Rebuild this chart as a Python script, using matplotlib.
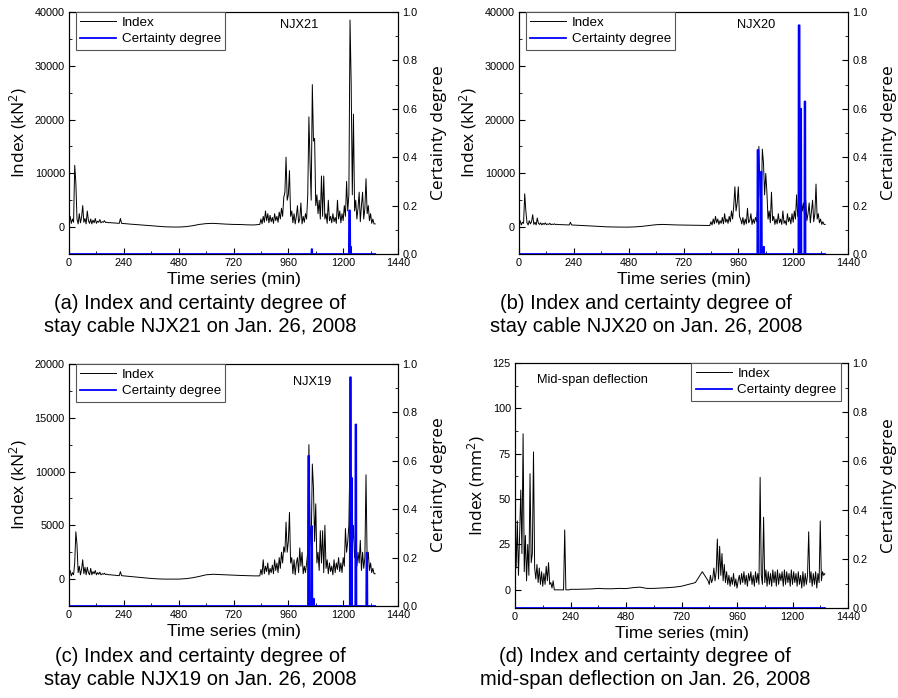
import numpy as np
import matplotlib
matplotlib.use('Agg')
import matplotlib.pyplot as plt
from matplotlib.ticker import MultipleLocator, FormatStrFormatter

plt.rcParams['mathtext.default'] = 'regular'

TICK_FONT = ['Liberation Sans', 'DejaVu Sans']
LABEL_FONT = ['Open Sans', 'DejaVu Sans']
CAP_FONT = ['Liberation Sans Narrow', 'Liberation Sans', 'DejaVu Sans']

# sampling times (min): dense early, coarse in the quiet night, dense later
minutes = list(range(0, 240, 5)) + list(range(240, 840, 30)) + list(range(835, 1345, 5))

# ---- NJX21 index (kN^2)
idx_a = [1000, 2000, 700, 1500, 900, 11500, 8200, 1500, 600, 2500,
         800, 1800, 4000, 900, 1600, 600, 3000, 1200, 700, 1500,
         600, 1300, 800, 1600, 700, 1100, 900, 1400, 800, 1000,
         900, 1200, 850, 900, 850, 800, 850, 800, 800, 780,
         760, 750, 740, 720, 700, 1600, 700, 680,
         650, 550, 450, 350, 250, 150, 60, 20, 10, 80,
         250, 500, 650, 700, 620, 550, 500, 480, 420, 400,
         500, 1500, 600, 2000, 900, 3000, 1200, 2500, 800, 2200,
         1000, 1800, 700, 2500, 1200, 2000, 900, 2800, 1500, 3500,
         2000, 5500, 6500, 13000, 5000, 6000, 10500, 2000, 3000, 800,
         2500, 600, 2000, 4000, 800, 1500, 4500, 600, 2000, 900,
         2500, 1500, 6000, 20500, 12000, 5000, 26500, 16000, 16500, 4000,
         6000, 2500, 5000, 1500, 9500, 2000, 9500, 1500, 2500, 700,
         5000, 1200, 2000, 800, 2500, 1000, 1800, 700, 5000, 1500,
         3000, 800, 2500, 1200, 4000, 2000, 8500, 3000, 6000, 38500,
         27000, 6000, 21000, 3000, 5000, 1500, 3500, 6500, 1000, 4000,
         6500, 1500, 3500, 9000, 2500, 4000, 1200, 2500, 700, 1500,
         600, 600]

# ---- NJX20 index (kN^2)
idx_b = [500, 1200, 400, 900, 700, 6200, 3000, 800, 400, 1200,
         600, 1000, 2300, 500, 900, 400, 1700, 700, 500, 800,
         400, 700, 500, 800, 450, 600, 500, 700, 450, 550,
         500, 600, 480, 520, 480, 460, 470, 450, 450, 440,
         430, 420, 420, 410, 400, 900, 400, 390,
         380, 320, 250, 180, 100, 40, 10, 0, 0, 50,
         150, 300, 450, 500, 450, 400, 380, 350, 320, 300,
         300, 1000, 400, 1500, 600, 2000, 800, 1500, 500, 1200,
         700, 1800, 600, 2500, 900, 1500, 700, 2000, 1000, 3000,
         1500, 4000, 7500, 3000, 4500, 7500, 2000, 1500, 600, 1800,
         400, 1500, 600, 3500, 800, 1200, 2500, 500, 1500, 700,
         1800, 1000, 4000, 15000, 6000, 3000, 14500, 12000, 6000, 10000,
         6500, 1500, 3000, 800, 6500, 1200, 2000, 500, 1500, 600,
         2500, 800, 1500, 500, 3000, 700, 1200, 400, 2500, 1000,
         1800, 600, 2500, 900, 3000, 1500, 6000, 2000, 4000, 7000,
         5000, 3000, 4500, 2000, 5000, 1200, 2500, 4500, 800, 3000,
         5000, 1000, 2500, 8000, 1500, 2500, 800, 1500, 500, 1000,
         500, 500]

# ---- NJX19 index (kN^2)
idx_c = [500, 800, 300, 600, 400, 1500, 4400, 3200, 600, 1200,
         400, 900, 1800, 500, 1100, 400, 1100, 600, 400, 1000,
         400, 700, 500, 800, 400, 600, 450, 650, 400, 500,
         450, 550, 420, 460, 420, 400, 410, 390, 380, 370,
         360, 350, 340, 330, 320, 700, 320, 310,
         300, 250, 180, 120, 60, 20, 0, 0, 0, 40,
         120, 250, 400, 450, 420, 380, 360, 340, 320, 300,
         300, 900, 400, 1800, 500, 1200, 700, 1500, 400, 1000,
         600, 1300, 500, 1800, 800, 1500, 600, 2000, 1000, 2500,
         1500, 3000, 2500, 5300, 2500, 3500, 6200, 1500, 2000, 500,
         1800, 400, 1500, 2000, 600, 2900, 1200, 2500, 500, 1200,
         600, 1500, 2500, 12500, 5000, 3000, 10700, 8500, 3500, 7000,
         1500, 2500, 800, 4500, 1500, 4500, 600, 5000, 1000, 1800,
         500, 1500, 700, 1200, 400, 1800, 600, 1500, 900, 2000,
         700, 1500, 600, 2000, 1200, 4700, 2500, 3500, 5000, 11800,
         9000, 3000, 5000, 2000, 3000, 1200, 2500, 1500, 3600, 800,
         2500, 1000, 2000, 9700, 1500, 2500, 800, 1500, 600, 1000,
         500, 500]

# ---- mid-span deflection index (mm^2)
idx_d = [46, 12, 38, 8, 30, 55, 20, 86, 10, 30,
         5, 25, 8, 64, 15, 20, 76, 12, 6, 14,
         4, 12, 3, 10, 2, 9, 3, 13, 5, 15,
         3, 4, 1, 5, 0, 0, 0, 0, 0, 0,
         0, 0, 0, 33, 0, 0, 0, 0,
         0.3, 0.3, 0.4, 0.5, 0.8, 0.6, 0.6, 0.8, 0.7, 1.2,
         1.5, 0.8, 0.8, 1.0, 1.2, 1.5, 2.0, 3.0, 4.0, 10,
         5, 3, 8, 4, 6, 12, 5, 10, 28, 6,
         24, 8, 20, 5, 14, 4, 10, 3, 8, 2,
         7, 3, 9, 2, 6, 1, 5, 8, 3, 9,
         4, 10, 3, 8, 2, 9, 5, 10, 3, 8,
         2, 10, 4, 9, 3, 62, 8, 3, 40, 4,
         11, 2, 10, 3, 9, 2, 11, 4, 10, 2,
         11, 3, 9, 5, 10, 2, 11, 3, 10, 4,
         9, 2, 11, 3, 10, 4, 9, 2, 10, 3,
         8, 1, 10, 2, 9, 3, 8, 32, 4, 10,
         2, 9, 3, 10, 1, 9, 4, 38, 5, 10,
         8, 9]

# certainty degree: minutes with nonzero value (zero elsewhere up to END_MIN)
END_MIN = 1340
cert_t_a = [1062, 1063, 1064, 1226, 1227, 1228, 1229, 1230, 1233, 1234]
cert_v_a = [0.02, 0.02, 0.02, 0.18, 0.18, 0.18, 0.18, 0.18, 0.03, 0.03]
cert_t_b = [1044, 1045, 1046, 1047, 1048, 1059, 1060, 1061, 1062, 1071, 1072,
            1224, 1225, 1226, 1227, 1228, 1232, 1233, 1234, 1235, 1250, 1251, 1252, 1253]
cert_v_b = [0.43, 0.43, 0.43, 0.43, 0.43, 0.34, 0.34, 0.34, 0.34, 0.03, 0.03,
            0.945, 0.945, 0.945, 0.945, 0.945, 0.60, 0.60, 0.60, 0.60, 0.63, 0.63, 0.63, 0.63]
cert_t_c = [1047, 1048, 1049, 1050, 1051, 1061, 1062, 1063, 1064, 1071, 1072,
            1230, 1231, 1232, 1233, 1234, 1236, 1237, 1238, 1254, 1255, 1256, 1257,
            1302, 1303, 1304, 1305]
cert_v_c = [0.62, 0.62, 0.62, 0.62, 0.62, 0.33, 0.33, 0.33, 0.33, 0.03, 0.03,
            0.945, 0.945, 0.945, 0.945, 0.945, 0.53, 0.53, 0.53, 0.75, 0.75, 0.75, 0.75,
            0.22, 0.22, 0.22, 0.22]
cert_t_d = []
cert_v_d = []

names = ['NJX21', 'NJX20', 'NJX19', 'Mid-span deflection']
captions = ['(a) Index and certainty degree of\nstay cable NJX21 on Jan. 26, 2008',
            '(b) Index and certainty degree of\nstay cable NJX20 on Jan. 26, 2008',
            '(c) Index and certainty degree of\nstay cable NJX19 on Jan. 26, 2008',
            '(d) Index and certainty degree of\nmid-span deflection on Jan. 26, 2008']
ylabels = ['Index (kN$^2$)', 'Index (kN$^2$)', 'Index (kN$^2$)', 'Index (mm$^2$)']


def cert_series(times, vals):
    c = np.zeros(END_MIN + 1)
    c[times] = vals
    return c


def style_ticks(ax):
    for lab in ax.get_xticklabels() + ax.get_yticklabels():
        lab.set_family(TICK_FONT)
        lab.set_fontsize(7.8)


def draw_panel(fig, rect, idx, ct, cv, name, ylabel, ylim, ymaj, name_pos, leg_loc, caption, cap_x, cap_y):
    ax = fig.add_axes(rect)
    ax.plot(minutes, idx, color='black', lw=0.7, label='Index')
    ax.set_xlim(0, 1440)
    ax.set_ylim(*ylim)
    ax.xaxis.set_major_locator(MultipleLocator(240))
    ax.xaxis.set_minor_locator(MultipleLocator(120))
    ax.set_yticks(np.arange(0, ylim[1] + 1, ymaj))
    ax.yaxis.set_minor_locator(MultipleLocator(ymaj / 2))
    ax.tick_params(which='both', direction='in', top=False, right=False, pad=3)
    ax.tick_params(which='major', length=4)
    ax.tick_params(which='minor', length=2)
    ax.set_ylabel(ylabel, family=LABEL_FONT, fontsize=12.5, labelpad=4)
    ax.set_xlabel('Time series (min)', family=CAP_FONT, fontsize=12.5, labelpad=3)
    style_ticks(ax)

    ax2 = ax.twinx()
    ax2.plot(np.arange(END_MIN + 1), cert_series(ct, cv), color='#0000ff', lw=1.3,
             label='Certainty degree', zorder=3)
    ax2.set_ylim(0, 1.0)
    ax2.yaxis.set_major_locator(MultipleLocator(0.2))
    ax2.yaxis.set_minor_locator(MultipleLocator(0.1))
    ax2.yaxis.set_major_formatter(FormatStrFormatter('%.1f'))
    ax2.tick_params(which='both', direction='in', pad=3)
    ax2.tick_params(which='major', length=4)
    ax2.tick_params(which='minor', length=2)
    ax2.set_ylabel('Certainty degree', family=LABEL_FONT, fontsize=12.5, labelpad=10)
    style_ticks(ax2)

    ax2.text(name_pos[0], name_pos[1], name, transform=ax2.transAxes, ha='center', va='center',
             family=TICK_FONT, fontsize=9.2)

    h1, l1 = ax.get_legend_handles_labels()
    h2, l2 = ax2.get_legend_handles_labels()
    anchor = (0.02, 1.0) if leg_loc == 'upper left' else (0.98, 1.0)
    leg = ax2.legend(h1 + h2, l1 + l2, loc=leg_loc, bbox_to_anchor=anchor, borderaxespad=0,
                     fancybox=False, framealpha=1, edgecolor='#555555', handlelength=2.7,
                     prop={'family': TICK_FONT, 'size': 9.6}, borderpad=0.35, labelspacing=0.3,
                     handletextpad=0.4)
    leg.get_frame().set_linewidth(0.8)

    fig.text(cap_x, cap_y, caption, ha='center', va='center', family=CAP_FONT,
             fontsize=14.5, linespacing=1.3)


fig = plt.figure(figsize=(8.98, 6.98), dpi=100)

W, H = 898.0, 698.0
draw_panel(fig, [69 / W, 1 - 254 / H, 329 / W, 242 / H], idx_a, cert_t_a, cert_v_a,
           names[0], ylabels[0], (-5000, 40000), 10000, (0.70, 0.946), 'upper left',
           captions[0], 200 / W, 1 - 315 / H)
draw_panel(fig, [519 / W, 1 - 254 / H, 329 / W, 242 / H], idx_b, cert_t_b, cert_v_b,
           names[1], ylabels[1], (-5000, 40000), 10000, (0.72, 0.946), 'upper left',
           captions[1], 646 / W, 1 - 315 / H)
draw_panel(fig, [69 / W, 1 - 606 / H, 329 / W, 242 / H], idx_c, cert_t_c, cert_v_c,
           names[2], ylabels[2], (-2500, 20000), 5000, (0.74, 0.927), 'upper left',
           captions[2], 200 / W, 1 - 668 / H)
draw_panel(fig, [515 / W, 1 - 608 / H, 333 / W, 245 / H], idx_d, cert_t_d, cert_v_d,
           names[3], ylabels[3], (-10, 125), 25, (0.234, 0.93), 'upper right',
           captions[3], 645 / W, 1 - 668 / H)

fig.savefig('out.png', dpi=100)
